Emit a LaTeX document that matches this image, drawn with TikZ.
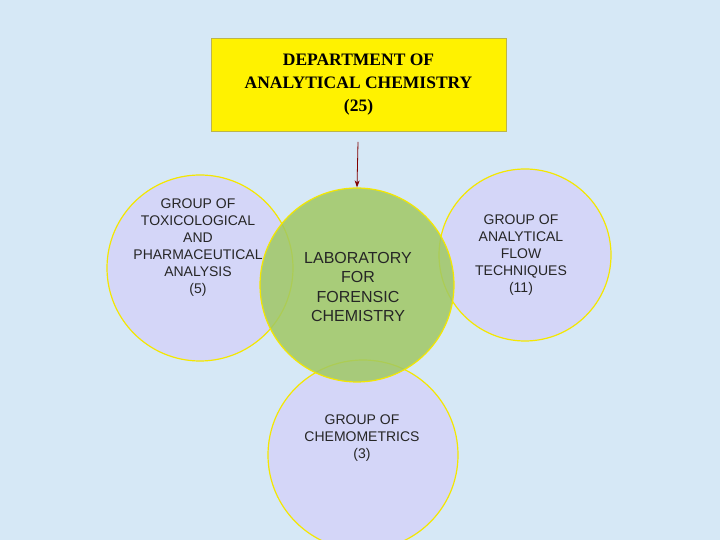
\documentclass[tikz,border=0pt]{standalone}
\usetikzlibrary{arrows.meta}
\usepackage{fontspec}
\setmainfont{Liberation Serif}
\setsansfont{Liberation Sans}
\definecolor{bg}{RGB}{214,232,246}
\definecolor{lav}{RGB}{212,214,248}
\definecolor{grn}{RGB}{160,200,100}
\begin{document}
\begin{tikzpicture}[x=1pt,y=1pt,
  circ/.style={circle,draw=yellow!90!olive,line width=1.2pt,fill=lav,inner sep=0pt},
  lab/.style={font=\sffamily\fontsize{14}{17}\selectfont,align=center,text=black!85}]
\useasboundingbox (0,0) rectangle (720,540);
\fill[bg] (0,0) rectangle (720,540);
\node[circ,minimum size=186pt] (L) at (200,272) {};
\node[circ,minimum size=172pt] (R) at (525,285) {};
\node[circ,minimum size=190pt] (B) at (363,85) {};
\node[circ,minimum size=194pt,fill=grn,fill opacity=0.85] (C) at (357,255) {};
\node[lab] at (198,292) {GROUP OF\\TOXICOLOGICAL\\AND\\PHARMACEUTICAL\\ANALYSIS\\(5)};
\node[lab] at (521,285) {GROUP OF\\ANALYTICAL\\FLOW\\TECHNIQUES\\(11)};
\node[lab] at (362,102) {GROUP OF\\CHEMOMETRICS\\(3)};
\node[lab,font=\sffamily\fontsize{16}{19.5}\selectfont] at (358,253) {LABORATORY\\FOR\\FORENSIC\\CHEMISTRY};
\node[draw=olive!60,fill=yellow,minimum width=295pt,minimum height=93pt,
  font=\bfseries\fontsize{17.5}{23}\selectfont,align=center] (D) at (358.5,455.5)
  {DEPARTMENT OF\\ANALYTICAL CHEMISTRY\\(25)};
\coordinate (a1) at (358,398);
\draw[-{Stealth[length=7pt,width=5pt]},red!50!black,line width=0.8pt] (a1) -- (C.north);
\end{tikzpicture}
\end{document}
